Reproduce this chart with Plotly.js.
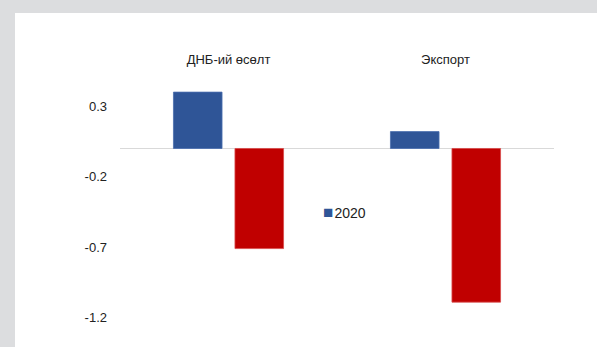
<!DOCTYPE html>
<html>
<head>
<meta charset="utf-8">
<script src="https://cdn.plot.ly/plotly-3.0.1.min.js"></script>
<style>
  html, body { margin: 0; padding: 0; background: #dcdddf; width: 597px; height: 347px; overflow: hidden; }
  #chart { position: absolute; left: 15px; top: 13px; width: 582px; height: 334px; background: #ffffff; }
</style>
</head>
<body>
<div id="chart"></div>
<script>
const categories = ["ДНБ-ий өсөлт", "Экспорт"];
const series2020 = [0.40, 0.12];
const seriesRed = [-0.71, -1.09];
const tickValues = [0.3, -0.2, -0.7, -1.2];
const tickLabels = ["0.3", "-0.2", "-0.7", "-1.2"];
const legendName = "2020";
const blue = "#2F5597";
const red = "#C00000";

const font = { family: "Liberation Sans, Arial, sans-serif", size: 13, color: "#222222" };

const data = [
  { type: "bar", name: legendName, x: categories, y: series2020,
    marker: { color: blue, line: { color: "#4a6fae", width: 0.8 } }, showlegend: false },
  { type: "bar", name: "2021", x: categories, y: seriesRed,
    marker: { color: red, line: { color: "#d84a4a", width: 0.8 } }, showlegend: false }
];

const layout = {
  width: 582, height: 334,
  margin: { l: 105, r: 43, t: 55, b: 12, pad: 0 },
  paper_bgcolor: "#ffffff", plot_bgcolor: "#ffffff",
  font: font,
  barmode: "group",
  bargap: 0.433,
  bargroupgap: 0.21,
  xaxis: { side: "top", showgrid: false, showline: false, zeroline: false,
           ticks: "", tickfont: font, fixedrange: true, ticklabelstandoff: 0 },
  yaxis: { range: [-1.323, 0.571], tickvals: tickValues, ticktext: tickLabels,
           showgrid: false, showline: false, zeroline: true,
           zerolinecolor: "#d9d9d9", zerolinewidth: 1.5,
           ticks: "", tickfont: font, ticklabelstandoff: 12 },
  annotations: [
    { xref: "paper", yref: "paper", x: 0.464, y: 0.457, xanchor: "left", yanchor: "middle",
      showarrow: false, font: { family: font.family, size: 14, color: "#222222" },
      text: '<span style="color:' + blue + ';font-size:17px">■</span><span style="font-size:4px"> </span>' + legendName }
  ],
  showlegend: false
};

Plotly.newPlot("chart", data, layout, { displayModeBar: false, staticPlot: true });
</script>
</body>
</html>
